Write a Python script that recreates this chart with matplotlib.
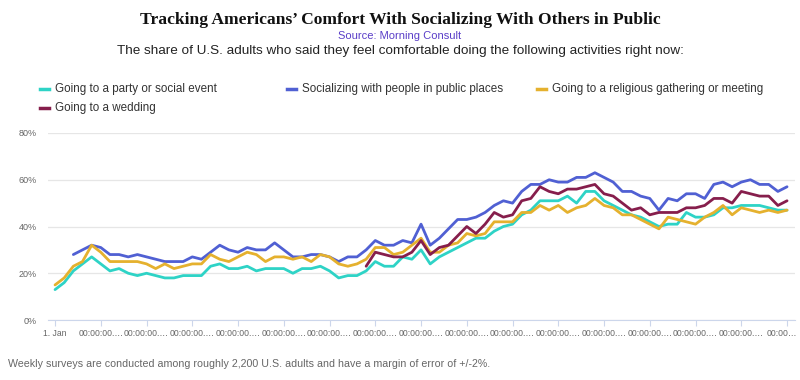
import matplotlib
matplotlib.use("Agg")
import matplotlib.pyplot as plt
import matplotlib.transforms as mtransforms
from matplotlib.lines import Line2D

# Weekly survey index (one point per week), ticks every 5 weeks
weeks = list(range(81))

party = [13, 16, 21, 24, 27, 24, 21, 22, 20, 19, 20, 19, 18, 18, 19, 19, 19, 23, 24, 22,
         22, 23, 21, 22, 22, 22, 20, 22, 22, 23, 21, 18, 19, 19, 21, 25, 23, 23, 27, 26,
         30, 24, 27, 29, 31, 33, 35, 35, 38, 40, 41, 45, 47, 51, 51, 51, 53, 50, 55, 55,
         51, 49, 47, 45, 44, 42, 40, 41, 41, 46, 44, 44, 45, 48, 48, 49, 49, 49, 48, 47, 47]

public = [None, None, 28, 30, 32, 31, 28, 28, 27, 28, 27, 26, 25, 25, 25, 27, 26, 29, 32, 30,
          29, 31, 30, 30, 33, 30, 27, 27, 28, 28, 27, 25, 27, 27, 30, 34, 32, 32, 34, 33,
          41, 32, 35, 39, 43, 43, 44, 46, 49, 51, 50, 55, 58, 58, 60, 59, 59, 61, 61, 63,
          61, 59, 55, 55, 53, 52, 47, 52, 51, 54, 54, 52, 58, 59, 57, 59, 60, 58, 58, 55, 57]

religious = [15, 18, 23, 25, 32, 29, 25, 25, 25, 25, 24, 22, 24, 22, 23, 24, 24, 28, 26, 25,
             27, 29, 28, 25, 27, 27, 26, 27, 25, 28, 27, 24, 23, 24, 26, 31, 31, 28, 29, 32,
             35, 29, 29, 32, 33, 37, 36, 37, 42, 42, 42, 46, 46, 49, 47, 49, 46, 48, 49, 52,
             49, 48, 45, 45, 43, 41, 39, 44, 43, 42, 41, 44, 46, 49, 45, 48, 47, 46, 47, 46, 47]

wedding = [None] * 34 + [23, 29, 28, 27, 27, 29,
           34, 28, 31, 32, 36, 40, 37, 41, 46, 44, 45, 51, 52, 57, 55, 54, 56, 56, 57, 58,
           54, 53, 50, 47, 48, 45, 46, 46, 46, 48, 48, 49, 52, 52, 50, 55, 54, 53, 53, 49, 51]

labels = ["Going to a party or social event", "Socializing with people in public places",
          "Going to a religious gathering or meeting", "Going to a wedding"]
colors = ["#2ed3c6", "#5060d3", "#e5b12e", "#861e4c"]
series = [party, public, religious, wedding]

tick_pos = list(range(0, 81, 5))
tick_labels = ["1. Jan"] + ["00:00:00.…"] * 15 + ["00:00…"]

plt.rcParams["font.family"] = ["Liberation Sans", "DejaVu Sans"]

fig = plt.figure(figsize=(8, 3.8), dpi=100)
ax = fig.add_axes([48 / 800, 60 / 380, 747 / 800, 187 / 380])

for vals, lab, col in zip(series, labels, colors):
    ys = [float("nan") if v is None else v for v in vals]
    ax.plot(weeks, ys, color=col, lw=2.0, label=lab, solid_joinstyle="round",
            solid_capstyle="round")

ax.set_xlim(-0.77, 80.87)
ax.set_ylim(0, 80)
ax.set_yticks([0, 20, 40, 60, 80])
ax.set_yticklabels(["0%", "20%", "40%", "60%", "80%"], fontsize=6.5, color="#666666")
ax.set_xticks(tick_pos)
ax.set_xticklabels(tick_labels, fontsize=6.2, color="#666666")
ax.tick_params(axis="y", length=0, pad=8)
ax.tick_params(axis="x", length=4, color="#ccd6eb", pad=2.5)
ax.grid(axis="y", color="#e6e6e6", lw=0.9)
ax.set_axisbelow(True)
for s in ["top", "right", "left"]:
    ax.spines[s].set_visible(False)
ax.spines["bottom"].set_color("#ccd6eb")

# nudge the last tick label so it stays inside the figure
last = ax.get_xticklabels()[-1]
last.set_transform(last.get_transform() +
                   mtransforms.ScaledTranslation(-5 / 100, 0, fig.dpi_scale_trans))

# titles
fig.text(0.5, 1 - 20 / 380, "Tracking Americans’ Comfort With Socializing With Others in Public",
         ha="center", va="center", fontsize=12.6, fontweight="bold",
         family=["Liberation Serif", "DejaVu Serif"], color="#111111")
fig.text(0.5, 1 - 36 / 380, "Source: Morning Consult", ha="center", va="center",
         fontsize=8, color="#5a3ec8")
fig.text(0.5, 1 - 51 / 380, "The share of U.S. adults who said they feel comfortable doing the following activities right now:",
         ha="center", va="center", fontsize=9.7, color="#222222")

# legend, fixed item width like the original
leg_pos = [(40, 89), (287, 89), (537, 89), (40, 108)]
for (px, py), lab, col in zip(leg_pos, labels, colors):
    fy = 1 - py / 380
    fig.add_artist(Line2D([px / 800, (px + 9) / 800], [fy, fy], color=col, lw=2.5,
                          transform=fig.transFigure))
    fig.text((px + 15) / 800, fy, lab, ha="left", va="center", fontsize=8.4, color="#333333")

fig.text(8 / 800, 1 - 364 / 380,
         "Weekly surveys are conducted among roughly 2,200 U.S. adults and have a margin of error of +/-2%.",
         ha="left", va="center", fontsize=7.65, color="#666666")

fig.savefig("out.png", dpi=100)
